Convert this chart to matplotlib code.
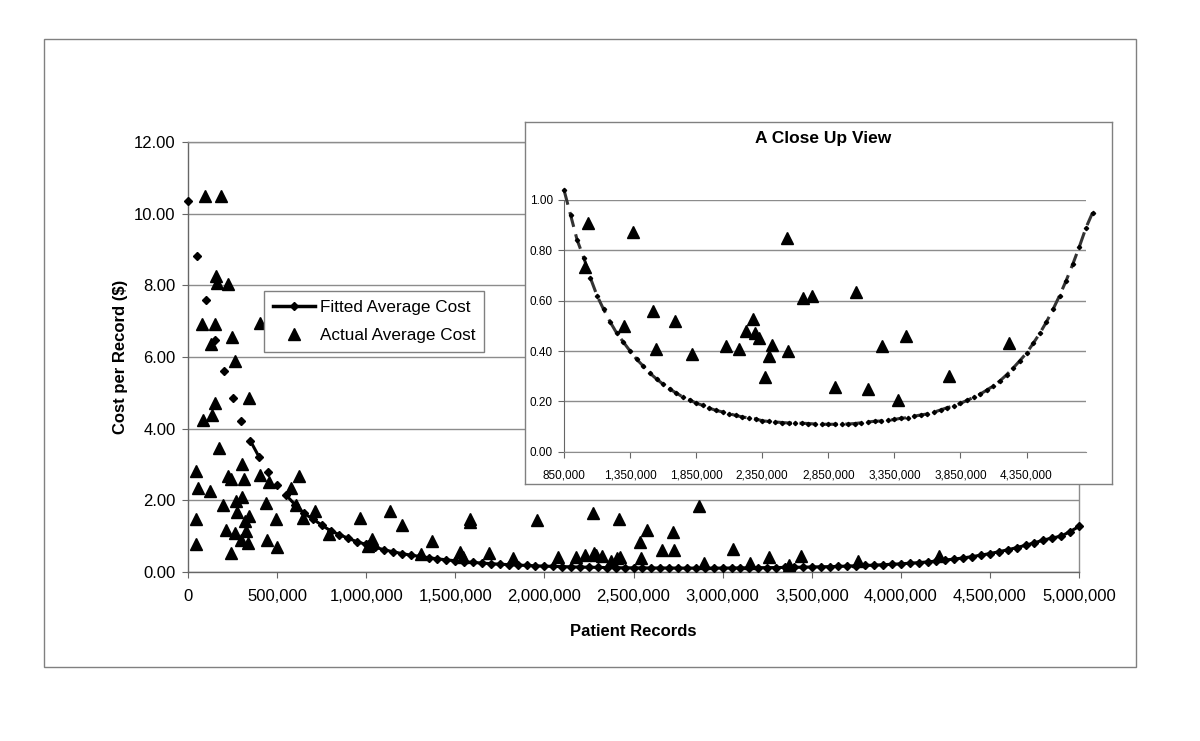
import matplotlib
matplotlib.use("Agg")
import matplotlib.pyplot as plt
import numpy as np
from matplotlib.patches import Rectangle
from matplotlib.lines import Line2D
from matplotlib.ticker import FuncFormatter

plt.rcParams['font.family'] = ['Liberation Sans', 'DejaVu Sans']

# ---------------- data ----------------
# Fitted average cost (x in patient records, y in $ per record)
fit_x = np.arange(0, 5000001, 50000)
fit_y = [10.35, 8.83, 7.59, 6.47, 5.62, 4.85, 4.21, 3.66, 3.20, 2.78,
         2.43, 2.15, 1.88, 1.64, 1.48, 1.31, 1.15, 1.04, 0.94, 0.84,
         0.77, 0.69, 0.62, 0.565, 0.515, 0.47, 0.435, 0.40, 0.367, 0.34,
         0.312, 0.289, 0.268, 0.249, 0.233, 0.217, 0.206, 0.193, 0.184, 0.173,
         0.164, 0.158, 0.151, 0.144, 0.138, 0.134, 0.130, 0.123, 0.120, 0.118,
         0.116, 0.114, 0.113, 0.113, 0.112, 0.110, 0.109, 0.109, 0.109, 0.109,
         0.110, 0.112, 0.115, 0.118, 0.121, 0.122, 0.124, 0.128, 0.133, 0.135,
         0.141, 0.146, 0.150, 0.157, 0.166, 0.175, 0.182, 0.192, 0.204, 0.216,
         0.229, 0.245, 0.262, 0.282, 0.306, 0.333, 0.362, 0.392, 0.43, 0.47,
         0.515, 0.565, 0.62, 0.68, 0.745, 0.815, 0.89, 0.95, 1.00, 1.13, 1.27]
fit_y = np.array(fit_y)

# Actual average cost
act_x = [97000, 187000, 159000, 162000, 224000, 80000, 153000, 406000,
         249000, 131000, 262000, 340000, 153000, 136000, 84000, 172000,
         47000, 305000, 224000, 243000, 312000, 406000, 455000, 623000,
         56000, 125000, 580000, 305000, 268000, 196000, 439000, 604000,
         275000, 342000, 318000, 47000, 492000, 645000, 215000, 262000,
         327000, 299000, 337000, 443000, 47000, 243000, 500000, 713000,
         793000, 965000, 1134000, 1199000, 1583000, 1583000, 1960000, 2271000,
         2421000, 2574000, 2724000, 2869000,
         1009000, 1034000, 1307000, 1370000, 1527000, 1545000, 1691000, 1822000,
         2077000, 2178000, 2229000, 2280000, 2292000, 2325000, 2373000, 2405000,
         2423000, 2537000, 2542000, 2658000, 2729000, 2898000, 3060000, 3151000,
         3259000, 3375000, 3439000, 3761000, 4216000]
act_y = [10.49, 10.49, 8.26, 8.07, 8.04, 6.92, 6.92, 6.96,
         6.57, 6.35, 5.89, 4.85, 4.71, 4.38, 4.24, 3.45,
         2.83, 3.01, 2.68, 2.59, 2.59, 2.71, 2.52, 2.68,
         2.34, 2.27, 2.35, 2.10, 1.99, 1.87, 1.93, 1.87,
         1.68, 1.57, 1.43, 1.47, 1.48, 1.50, 1.17, 1.08,
         1.15, 0.89, 0.80, 0.89, 0.78, 0.54, 0.71, 1.71,
         1.06, 1.50, 1.70, 1.31, 1.48, 1.40, 1.45, 1.64,
         1.47, 1.17, 1.13, 1.84,
         0.735, 0.907, 0.50, 0.874, 0.56, 0.407, 0.52, 0.387,
         0.42, 0.407, 0.481, 0.526, 0.473, 0.45, 0.296, 0.38,
         0.424, 0.848, 0.40, 0.609, 0.619, 0.258, 0.636, 0.248,
         0.42, 0.205, 0.46, 0.30, 0.433]

main_xticks = np.arange(0, 5000001, 500000)
main_yticks = np.arange(0, 12.01, 2)
inset_xticks = np.arange(850000, 4350001, 500000)
inset_yticks = np.arange(0, 1.01, 0.2)

# ---------------- figure ----------------
W, H = 1200, 741
fig = plt.figure(figsize=(W / 100, H / 100), dpi=100)
fig.patch.set_facecolor('white')

def fx(px):
    return px / W

def fy(py):
    return 1 - py / H

fig.add_artist(Rectangle((fx(44), fy(667)), fx(1136) - fx(44), fy(39) - fy(667),
                         transform=fig.transFigure, fill=False,
                         ec='#808080', lw=1))

grid_c = '#8c8c8c'
ax = fig.add_axes([fx(188), fy(572), fx(1079) - fx(188), fy(142) - fy(572)])
ax.set_xlim(0, 5000000)
ax.set_ylim(0, 12)
ax.set_xticks(main_xticks)
ax.set_yticks(main_yticks)
ax.xaxis.set_major_formatter(FuncFormatter(lambda v, p: f"{int(round(v)):,}"))
ax.yaxis.set_major_formatter(FuncFormatter(lambda v, p: f"{v:.2f}"))
ax.tick_params(labelsize=12, length=4, color='#666666', direction='out')
ax.tick_params(axis='y', pad=5)
ax.tick_params(axis='x', pad=8)
ax.yaxis.grid(True, color=grid_c, lw=1)
ax.set_axisbelow(True)
for s in ['top', 'right']:
    ax.spines[s].set_color(grid_c)
    ax.spines[s].set_linewidth(1)
for s in ['left', 'bottom']:
    ax.spines[s].set_color('#666666')
    ax.spines[s].set_linewidth(1)
ax.set_xlabel('Patient Records', fontsize=12, fontweight='bold', labelpad=15)
ax.set_ylabel('Cost per Record ($)', fontsize=12, fontweight='bold', labelpad=4)

# fitted: markers everywhere, lines where connected in the original
ax.plot(fit_x, fit_y, ls='none', marker='D', ms=4.5, color='black', zorder=3,
        clip_on=False)
cont = fit_x >= 550000
ax.plot(fit_x[cont], fit_y[cont], color='black', lw=2.2, zorder=3)
seg = (fit_x >= 350000) & (fit_x <= 400000)
ax.plot(fit_x[seg], fit_y[seg], color='black', lw=2.2, zorder=3)
ax.plot(act_x, act_y, ls='none', marker='^', ms=8, color='black', zorder=4)

handles = [Line2D([], [], color='black', lw=2.5, marker='D', ms=4.5),
           Line2D([], [], color='black', ls='none', marker='^', ms=9)]
leg = ax.legend(handles, ['Fitted Average Cost', 'Actual Average Cost'],
                loc='upper left', bbox_to_anchor=(0.0853, 0.6535),
                fontsize=12.3, frameon=True, fancybox=False, edgecolor='#808080',
                framealpha=1, handlelength=2.5, labelspacing=0.8,
                borderpad=0.5, handletextpad=0.3, borderaxespad=0)
leg.get_frame().set_linewidth(1)

# inset background box
bx = fig.add_axes([fx(525), fy(484), fx(1112) - fx(525), fy(122) - fy(484)])
bx.set_facecolor('white')
bx.set_xticks([])
bx.set_yticks([])
for s in bx.spines.values():
    s.set_color('#808080')
    s.set_linewidth(1)

ia = fig.add_axes([fx(564), fy(451.7), fx(1086) - fx(564), fy(200) - fy(451.7)])
ia.set_facecolor('none')
ia.set_xlim(850000, 4800000)
ia.set_ylim(0, 1.0)
ia.set_xticks(inset_xticks)
ia.set_yticks(inset_yticks)
ia.xaxis.set_major_formatter(FuncFormatter(lambda v, p: f"{int(round(v)):,}"))
ia.yaxis.set_major_formatter(FuncFormatter(lambda v, p: f"{v:.2f}"))
ia.tick_params(labelsize=8.5, length=4, color='#666666', pad=4)
ia.tick_params(axis='x', pad=9)
ia.yaxis.grid(True, color=grid_c, lw=1)
ia.set_axisbelow(True)
ia.spines['top'].set_visible(False)
ia.spines['right'].set_visible(False)
ia.spines['left'].set_color('#666666')
ia.spines['bottom'].set_color(grid_c)

inm = (fit_x >= 850000) & (fit_x <= 4850000)
ia.plot(fit_x[inm], fit_y[inm], color='#333333', lw=2.2, ls=(0, (5, 2.5)),
        marker='D', ms=2.2, mfc='black', mec='black', clip_on=False, zorder=3)
ia.plot(act_x, act_y, ls='none', marker='^', ms=8, color='black', zorder=4)

fig.text(fx(823), fy(138), 'A Close Up View', ha='center', va='center',
         fontsize=12.5, fontweight='bold')

fig.savefig('out.png', dpi=100, facecolor='white')
